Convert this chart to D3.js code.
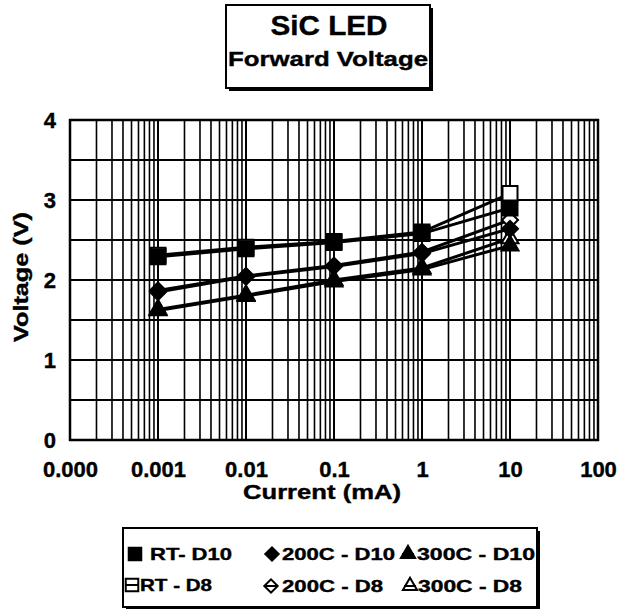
<!DOCTYPE html>
<html>
<head>
<meta charset="utf-8">
<script src="https://cdn.jsdelivr.net/npm/d3@7"></script>
<style>
  html, body { margin: 0; padding: 0; background: #fff; }
  text { font-family: "Liberation Sans", Arial, sans-serif; font-weight: bold; fill: #000; stroke: #000; stroke-width: 0.4px; }
</style>
</head>
<body>
<div id="chart-wrapper"></div>
<script>
// Data
let currents = [0.001, 0.01, 0.1, 1, 10]
let rtD10 = [2.29, 2.39, 2.47, 2.58, 2.90]
let rtD8 = [2.31, 2.41, 2.48, 2.60, 3.08]
let c200D10 = [1.85, 2.04, 2.17, 2.33, 2.64]
let c200D8 = [1.87, 2.05, 2.18, 2.35, 2.75]
let c300D10 = [1.62, 1.80, 1.98, 2.13, 2.43]
let c300D8 = [1.63, 1.81, 2.00, 2.15, 2.52]
let seriesNames = ["RT- D10", "RT - D8", "200C - D10", "200C - D8", "300C - D10", "300C - D8"]
let xTickValues = [0.0001, 0.001, 0.01, 0.1, 1, 10, 100]
let xTickLabels = ["0.000", "0.001", "0.01", "0.1", "1", "10", "100"]
let yTickValues = [0, 1, 2, 3, 4]

let width = 618
let height = 609

// Series table built from the arrays above
let series = [
  {name: seriesNames[1], values: rtD8, shape: "square", open: true},
  {name: seriesNames[3], values: c200D8, shape: "diamond", open: true},
  {name: seriesNames[5], values: c300D8, shape: "triangle", open: true},
  {name: seriesNames[0], values: rtD10, shape: "square", open: false},
  {name: seriesNames[2], values: c200D10, shape: "diamond", open: false},
  {name: seriesNames[4], values: c300D10, shape: "triangle", open: false}
]

const symbolPath = (shape, k) => {
  if (shape == "square") return d3.symbol().type(d3.symbolSquare).size(225 * k)()
  if (shape == "diamond") return d3.symbol().type(d3.symbolSquare).size(128 * k)()
  return d3.symbol().type(d3.symbolTriangle).size(125 * k)()
}

const draw = () => {
  var svg = d3.select("#chart-wrapper")
    .append("svg")
    .attr("width", width)
    .attr("height", height)
  svg.append("rect").attr("width", width).attr("height", height).attr("fill", "#fff")

  var plot = {left: 70, right: 598, top: 120, bottom: 440}
  var xScale = d3.scaleLog().domain([0.0001, 100]).range([plot.left, plot.right])
  var yScale = d3.scaleLinear().domain([0, 4]).range([plot.bottom, plot.top])

  // Title box with shadow
  var title = svg.append("g")
  title.append("rect").attr("x", 229).attr("y", 8).attr("width", 204).attr("height", 83).attr("fill", "#000")
  title.append("rect").attr("x", 226).attr("y", 5).attr("width", 204).attr("height", 83)
    .attr("fill", "#fff").attr("stroke", "#000").attr("stroke-width", 2)
  title.append("text").attr("x", 329).attr("y", 35).attr("text-anchor", "middle")
    .attr("font-size", 28).attr("textLength", 117).attr("lengthAdjust", "spacingAndGlyphs").text("SiC LED")
  title.append("text").attr("x", 328).attr("y", 66).attr("text-anchor", "middle")
    .attr("font-size", 21).attr("textLength", 200).attr("lengthAdjust", "spacingAndGlyphs").text("Forward Voltage")

  // Log grid: every 1..9 of each decade
  var gridX = []
  d3.range(-4, 2).forEach(p => d3.range(1, 10).forEach(k => gridX.push(k * Math.pow(10, p))))
  gridX.push(100)
  svg.append("g").selectAll("line").data(gridX).join("line")
    .attr("x1", d => xScale(d)).attr("x2", d => xScale(d))
    .attr("y1", plot.top).attr("y2", plot.bottom)
    .attr("stroke", "#000").attr("stroke-width", d => Math.abs(Math.log10(d) % 1) < 1e-9 ? 2 : 1.6)
  svg.append("g").selectAll("line").data(d3.range(0, 4.01, 0.5)).join("line")
    .attr("x1", plot.left).attr("x2", plot.right)
    .attr("y1", d => yScale(d)).attr("y2", d => yScale(d))
    .attr("stroke", "#000").attr("stroke-width", 2)
  svg.append("rect").attr("x", plot.left).attr("y", plot.top)
    .attr("width", plot.right - plot.left).attr("height", plot.bottom - plot.top)
    .attr("fill", "none").attr("stroke", "#000").attr("stroke-width", 2.5)

  // Axes
  var x_axis = d3.axisBottom(xScale).tickValues(xTickValues)
    .tickFormat((d, i) => xTickLabels[i]).tickSizeInner(0).tickSizeOuter(0).tickPadding(21)
  var xAxis = svg.append("g").attr("transform", `translate(0,${plot.bottom})`).call(x_axis)
  xAxis.select(".domain").remove()
  xAxis.selectAll("text").attr("font-size", 22).attr("font-family", null).attr("fill", "#000")

  var y_axis = d3.axisLeft(yScale).tickValues(yTickValues).tickFormat(d3.format("d"))
    .tickSizeInner(0).tickSizeOuter(0).tickPadding(14)
  var yAxis = svg.append("g").attr("transform", `translate(${plot.left},0)`).call(y_axis)
  yAxis.select(".domain").remove()
  yAxis.selectAll("text").attr("font-size", 22).attr("font-family", null).attr("fill", "#000")

  svg.append("text").attr("x", 322).attr("y", 499).attr("text-anchor", "middle")
    .attr("font-size", 21).attr("textLength", 158).attr("lengthAdjust", "spacingAndGlyphs").text("Current (mA)")
  svg.append("text").attr("transform", "translate(28,277) rotate(-90)").attr("text-anchor", "middle")
    .attr("font-size", 21).attr("textLength", 130).attr("lengthAdjust", "spacingAndGlyphs").text("Voltage (V)")

  // Series lines then markers
  var line = d3.line().x((d, i) => xScale(currents[i])).y(d => yScale(d))
  svg.append("g").selectAll("path").data(series).join("path")
    .attr("d", d => line(d.values)).attr("fill", "none")
    .attr("stroke", "#000").attr("stroke-width", 3)
  series.forEach(s => {
    svg.append("g").selectAll("path").data(s.values).join("path")
      .attr("d", symbolPath(s.shape, 1))
      .attr("transform", (d, i) => `translate(${xScale(currents[i])},${yScale(d)})` + (s.shape == "diamond" ? " rotate(45)" : ""))
      .attr("fill", s.open ? "#fff" : "#000")
      .attr("stroke", "#000").attr("stroke-width", 2)
  })

  // Legend box with shadow
  var legend = svg.append("g")
  legend.append("rect").attr("x", 126).attr("y", 531).attr("width", 414).attr("height", 79).attr("fill", "#000")
  legend.append("rect").attr("x", 123).attr("y", 528).attr("width", 414).attr("height", 79)
    .attr("fill", "#fff").attr("stroke", "#000").attr("stroke-width", 2)
  var legendItems = [
    {name: seriesNames[0], shape: "square", open: false, sx: 135, sy: 554, tx: 150, tw: 82},
    {name: seriesNames[1], shape: "square", open: true, sx: 132, sy: 585, tx: 140, tw: 72},
    {name: seriesNames[2], shape: "diamond", open: false, sx: 272, sy: 554, tx: 282, tw: 113},
    {name: seriesNames[3], shape: "diamond", open: true, sx: 271, sy: 586, tx: 282, tw: 101},
    {name: seriesNames[4], shape: "triangle", open: false, sx: 408, sy: 554, tx: 417, tw: 118},
    {name: seriesNames[5], shape: "triangle", open: true, sx: 410, sy: 586, tx: 418, tw: 104}
  ]
  legendItems.forEach(d => {
    var g = legend.append("g")
    g.append("line").attr("x1", d.sx - 6).attr("x2", d.sx + 6).attr("y1", d.sy).attr("y2", d.sy)
      .attr("stroke", "#000").attr("stroke-width", 2)
    g.append("path").attr("d", symbolPath(d.shape, 0.7))
      .attr("transform", `translate(${d.sx},${d.sy})` + (d.shape == "diamond" ? " rotate(45)" : ""))
      .attr("fill", d.open ? "none" : "#000").attr("stroke", "#000").attr("stroke-width", 2)
    g.append("text").attr("x", d.tx).attr("y", d.sy + 6).attr("font-size", 17)
      .attr("textLength", d.tw).attr("lengthAdjust", "spacingAndGlyphs").text(d.name)
  })
}

draw()
</script>
</body>
</html>
